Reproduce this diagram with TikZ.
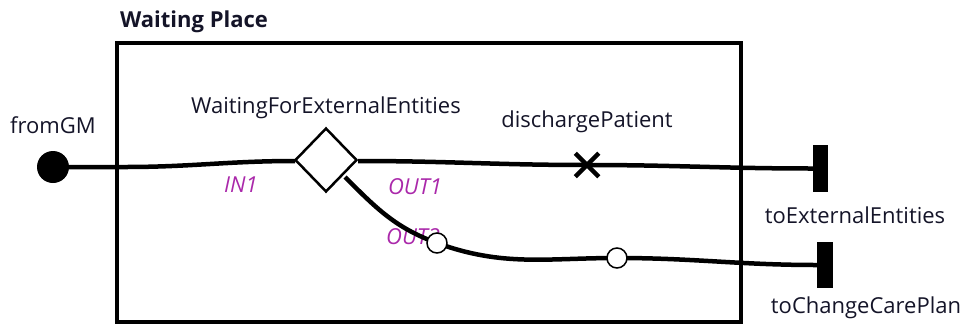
\documentclass[tikz,border=0pt]{standalone}
\usepackage{fontspec}
\setmainfont{Open Sans}
\usetikzlibrary{shapes.geometric,shapes.misc}
\definecolor{portcol}{RGB}{170,40,170}
\definecolor{txtcol}{RGB}{20,20,40}
\tikzset{
  lbl/.style={font=\fontsize{22}{24}\selectfont, text=txtcol, inner sep=0pt},
  portlbl/.style={font=\fontsize{22}{24}\selectfont\itshape, text=portcol, inner sep=0pt},
  wire/.style={line width=4.5pt},
  pinbox/.style={fill=black, draw=none, minimum width=15pt, minimum height=47pt, inner sep=0pt},
  smallc/.style={circle, draw=black, fill=white, line width=1.5pt, minimum size=20pt, inner sep=0pt},
}
\begin{document}
\begin{tikzpicture}[x=1pt,y=1pt]
\useasboundingbox (0,0) rectangle (972,-327);
% container
\draw[line width=4.5pt] (117,-43) rectangle (741,-322);
\node[lbl, font=\fontsize{22}{24}\selectfont\bfseries] (title) at (194,-22) {Waiting Place};
% nodes
\node[circle, fill=black, minimum size=32pt, inner sep=0pt] (fromGM) at (53,-167) {};
\node[lbl] (fromGMl) at (53,-125) {fromGM};
\node[lbl] (wfel) at (326,-108) {WaitingForExternalEntities};
\node[lbl] (dpl) at (587,-122) {dischargePatient};
\node[lbl] (teel) at (855,-215) {toExternalEntities};
\node[lbl] (tccl) at (866,-308) {toChangeCarePlan};
\node[pinbox] (toEE) at (820.5,-168.5) {};
\node[pinbox, minimum width=16pt, minimum height=46pt] (toCCP) at (825,-265) {};
\coordinate (dp) at (587,-165);
% labels of ports
\node[portlbl] (in1) at (241,-185) {IN1};
\node[portlbl] (out1) at (415,-187) {OUT1};
\node[portlbl, anchor=west] (out2) at (386,-237) {OUT2};
% wires
\draw[wire] (fromGM.center) -- (125,-167) to[out=0,in=180] (295,-161);
\draw[wire] (358,-161) to[out=0,in=180] (dp) to[out=0,in=180] (toEE.west);
\draw[wire] (345,-177) to[out=-45,in=160] (437,-243) to[out=-20,in=180] (617,-258) to[out=0,in=180] (toCCP.west);
% gateway diamond
\node[diamond, draw=black, fill=white, line width=2.5pt, minimum width=62pt, minimum height=64pt, inner sep=0pt, aspect=1] (gw) at (326,-160) {};
% discharge cross
\node[cross out, draw=black, line width=4.5pt, minimum size=19pt, inner sep=0pt] (dpx) at (dp) {};
% small circles
\node[smallc] (c1) at (437,-243) {};
\node[smallc] (c2) at (617,-258) {};
\end{tikzpicture}
\end{document}
